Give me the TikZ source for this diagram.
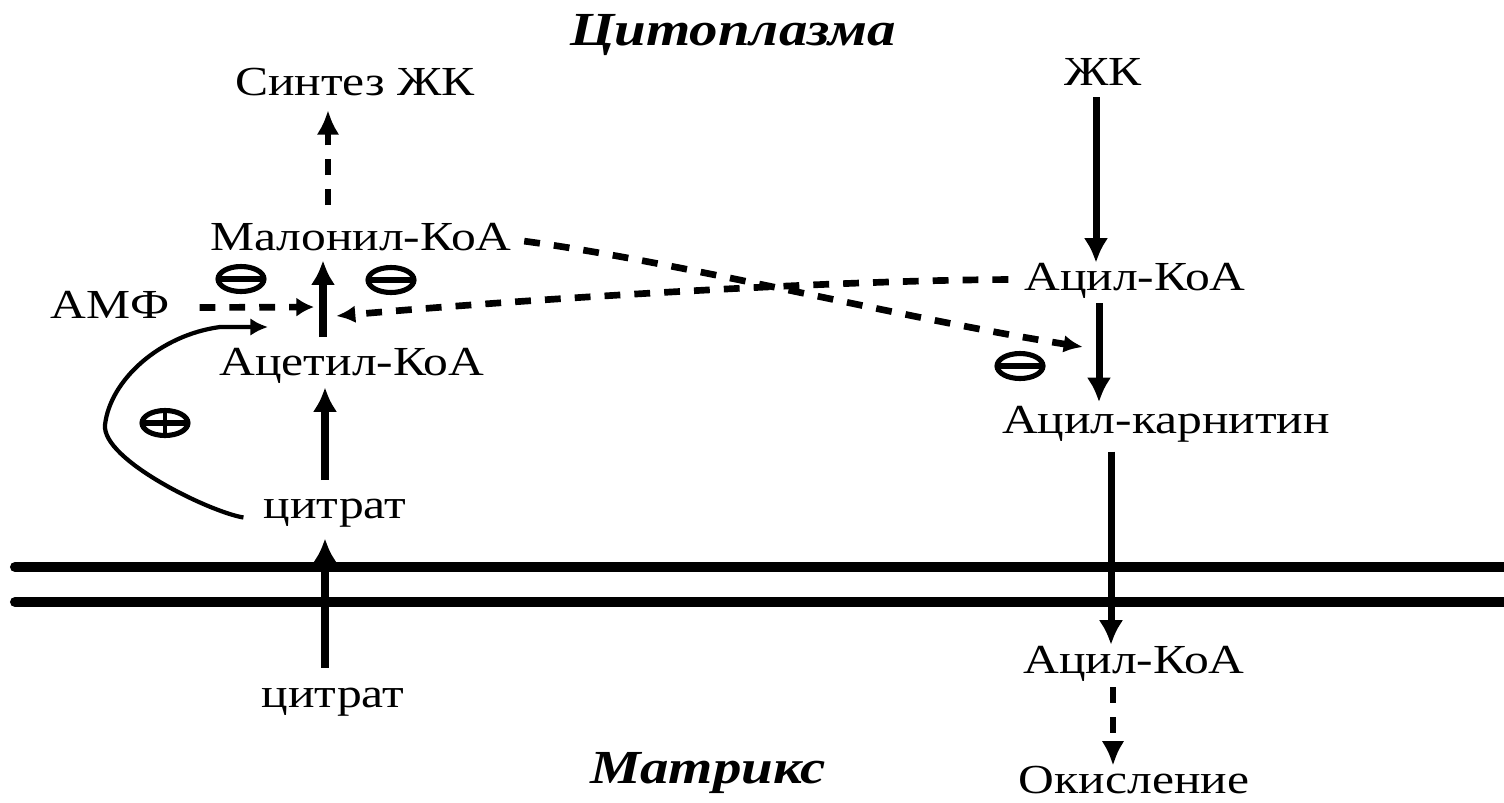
\documentclass[tikz,border=0pt]{standalone}
\usepackage{fontspec}
\setmainfont{Liberation Serif}[FakeStretch=1.2]
\usetikzlibrary{arrows.meta,shapes.geometric,calc}
\begin{document}
\begin{tikzpicture}[x=0.02cm,y=-0.02cm,
  lbl/.style={font=\fontsize{23.5}{26}\selectfont, inner sep=0pt, anchor=base,
              text height=0.54cm, text depth=0.12cm},
  ttl/.style={font=\fontsize{27}{30}\selectfont\bfseries\itshape, inner sep=0pt, anchor=base},
  solidarr/.style={line width=4pt, -{Latex[length=14pt,width=14pt]}},
  dasharr/.style={line width=3.8pt, dash pattern=on 9pt off 8pt, -{Latex[length=14pt,width=13pt]}},
  dashsmall/.style={line width=3.8pt, dash pattern=on 9pt off 8pt, -{Latex[length=11pt,width=10pt]}},
  curvearr/.style={line width=2.4pt, -{Latex[length=10pt,width=10pt]}},
  signbase/.style={ellipse, draw, line width=2.9pt, minimum width=0.92cm,
              minimum height=0.5cm, inner sep=0pt},
  minussign/.style={signbase, path picture={
      \draw[line width=3.6pt] ([xshift=-0.6cm]path picture bounding box.center)
        -- ([xshift=0.6cm]path picture bounding box.center);}},
  plussign/.style={signbase, path picture={
      \draw[line width=3.2pt] ([xshift=-0.6cm]path picture bounding box.center)
        -- ([xshift=0.6cm]path picture bounding box.center);
      \draw[line width=2.4pt] ([yshift=-0.6cm]path picture bounding box.center)
        -- ([yshift=0.6cm]path picture bounding box.center);}},
  membrane/.style={line width=5.7pt, line cap=round}
]
\fill[white] (0,0) rectangle (1504,802);
\useasboundingbox (0,0) rectangle (1504,802);

% titles
\node[ttl] (cyto) at (733,45) {Цитоплазма};
\node[ttl] (matrix) at (708,783) {Матрикс};

% labels
\node[lbl] (synth)   at (355,95)   {Синтез ЖК};
\node[lbl] (malonyl) at (361,250)  {Малонил-КоА};
\node[lbl] (amf)     at (110,318)  {АМФ};
\node[lbl] (acetyl)  at (352,375)  {Ацетил-КоА};
\node[lbl] (citr1)   at (335,518)  {цитрат};
\node[lbl] (citr2)   at (333,707)  {цитрат};
\node[lbl] (fa)      at (1103,85)  {ЖК};
\node[lbl] (acyl1)   at (1135,290) {Ацил-КоА};
\node[lbl] (acylc)   at (1166,433) {Ацил-карнитин};
\node[lbl] (acyl2)   at (1134,673) {Ацил-КоА};
\node[lbl] (oxid)    at (1134,793) {Окисление};

% regulation signs
\node[minussign] (s1) at (241,279) {};
\node[minussign] (s2) at (391,280) {};
\node[plussign]  (s3) at (165,423) {};
\node[minussign] (s4) at (1020,366) {};

% membrane
\draw[membrane] (15,567) -- (1512,567);
\draw[membrane] (15,602) -- (1512,602);

% column coordinates
\coordinate (xs) at (328,0);
\coordinate (xa) at (323,0);
\coordinate (xc) at (325,0);
\coordinate (xf) at (1096,0);
\coordinate (xg) at (1099,0);
\coordinate (xh) at (1111,0);
\coordinate (xi) at (1113,0);
\coordinate (jL) at (314,307);
\coordinate (jR) at (336,316);
\coordinate (jC) at (268,327);
\coordinate (jM) at (1083,347);

% left column
\draw[dasharr, shorten <=10pt, shorten >=5pt] (malonyl.north -| xs) -- (synth.south -| xs);
\draw[solidarr, shorten <=6pt, shorten >=2.3pt] (acetyl.north -| xa) -- (malonyl.south -| xa);
\draw[solidarr, shorten <=6pt, shorten >=3.4pt] (citr1.north -| xc) -- (acetyl.south -| xc);
\draw[solidarr, shorten <=6.8pt, shorten >=8pt] (citr2.north -| xc) -- (citr1.south -| xc);

% right column
\draw[solidarr, shorten <=3.4pt] (fa.south -| xf) -- (acyl1.north -| xf);
\draw[solidarr, shorten <=4pt, shorten >=2pt] (acyl1.south -| xg) -- (acylc.north -| xg);
\draw[solidarr, shorten <=7pt, shorten >=0.5pt] (acylc.south -| xh) -- (acyl2.north -| xh);
\draw[dasharr, shorten <=4.5pt, shorten >=0pt] (acyl2.south -| xi) -- (oxid.north -| xi);

% regulation connectors
\draw[dashsmall, -{Latex[length=10pt,width=11pt]}] ($(amf.east)+(30,0)$) -- (jL);
\draw[dashsmall, shorten <=9pt] (acyl1.west) .. controls (850,280) and (550,297) .. (jR);
\draw[dashsmall, shorten <=7pt] (malonyl.east) .. controls (680,262) and (900,318) .. (jM);
\draw[curvearr] ($(citr1.west)+(-20,10)$) .. controls (210,512) and (102,460) .. (105,425)
   .. controls (110,380) and (160,335) .. (220,327) -- (jC);
\end{tikzpicture}
\end{document}
